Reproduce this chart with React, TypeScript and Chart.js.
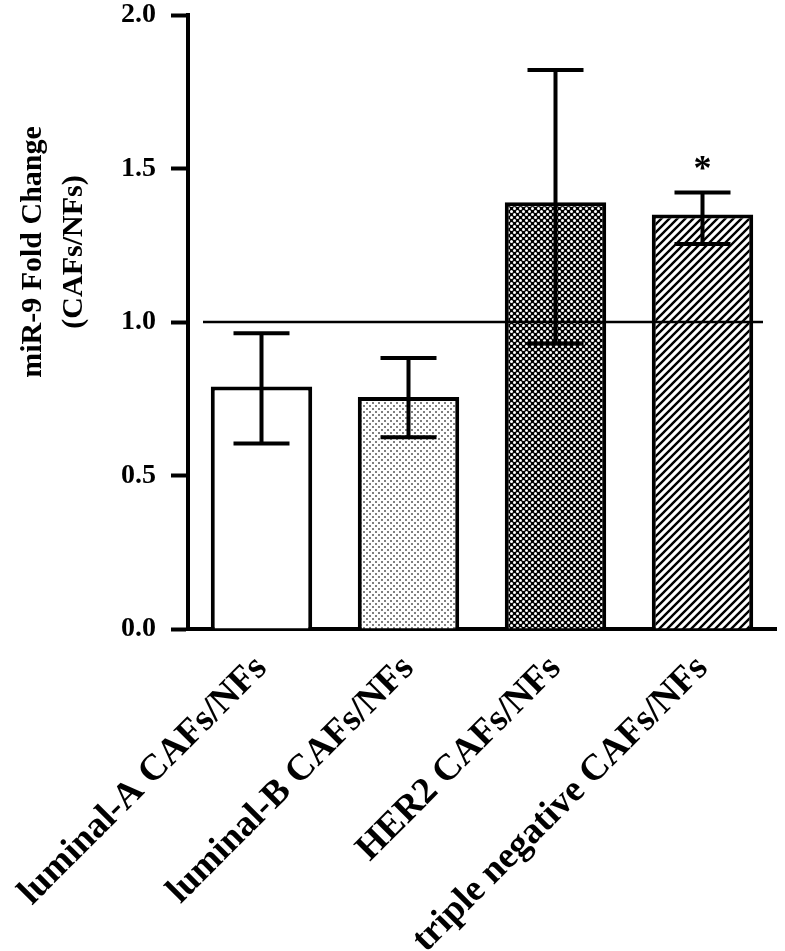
import React, { useEffect, useRef } from 'react';
import { Chart, registerables } from 'chart.js';

Chart.register(...registerables);

// ---- data ----
const categories = [
  'luminal-A CAFs/NFs',
  'luminal-B CAFs/NFs',
  'HER2 CAFs/NFs',
  'triple negative CAFs/NFs',
];
const meanValues = [0.79, 0.756, 1.39, 1.35];
const errorLow = [0.604, 0.625, 0.93, 1.254];
const errorHigh = [0.963, 0.883, 1.821, 1.422];
const significance = ['', '', '', '*'];
const patternKinds = ['white', 'lightDots', 'darkDots', 'hatch'];
const yTickValues = [0, 0.5, 1.0, 1.5, 2.0];
const referenceValue = 1.0;
const yTitleLines = ['miR-9 Fold Change', '(CAFs/NFs)'];

const FONT = '"Liberation Serif", "Times New Roman", serif';

function makePattern(kind: string): CanvasPattern | string {
  if (kind === 'white') return '#ffffff';
  const c = document.createElement('canvas');
  const ctx = c.getContext('2d')!;
  if (kind === 'lightDots') {
    c.width = 6; c.height = 6;
    ctx.fillStyle = '#ffffff'; ctx.fillRect(0, 0, 6, 6);
    ctx.fillStyle = '#808080';
    ctx.fillRect(0, 0, 2, 2);
    ctx.fillRect(3, 3, 2, 2);
  } else if (kind === 'darkDots') {
    c.width = 6; c.height = 6;
    ctx.fillStyle = '#000000'; ctx.fillRect(0, 0, 6, 6);
    ctx.fillStyle = '#ffffff';
    ctx.beginPath(); ctx.arc(1.5, 1.5, 1.5, 0, Math.PI * 2); ctx.fill();
    ctx.beginPath(); ctx.arc(4.5, 4.5, 1.5, 0, Math.PI * 2); ctx.fill();
  } else {
    c.width = 8; c.height = 8;
    ctx.fillStyle = '#ffffff'; ctx.fillRect(0, 0, 8, 8);
    ctx.strokeStyle = '#000000'; ctx.lineWidth = 2.4;
    ctx.beginPath();
    ctx.moveTo(-1, 9); ctx.lineTo(9, -1);
    ctx.moveTo(-1, 1); ctx.lineTo(1, -1);
    ctx.moveTo(7, 9); ctx.lineTo(9, 7);
    ctx.stroke();
  }
  return ctx.createPattern(c, 'repeat')!;
}

const overlayPlugin = {
  id: 'overlay',
  afterDatasetsDraw(chart: any) {
    const { ctx, chartArea, scales } = chart;
    const y = scales.y;
    const meta = chart.getDatasetMeta(0);
    ctx.save();
    // reference line at 1.0
    const yRef = y.getPixelForValue(referenceValue);
    ctx.strokeStyle = '#000';
    ctx.lineWidth = 2.5;
    ctx.beginPath();
    ctx.moveTo(chartArea.left + 15, yRef);
    ctx.lineTo(chartArea.right - 13, yRef);
    ctx.stroke();
    // error bars
    ctx.lineWidth = 4;
    meta.data.forEach((bar: any, i: number) => {
      const cx = bar.x;
      const yh = y.getPixelForValue(errorHigh[i]);
      const yl = y.getPixelForValue(errorLow[i]);
      ctx.beginPath();
      ctx.moveTo(cx, yl); ctx.lineTo(cx, yh);
      ctx.moveTo(cx - 28, yh); ctx.lineTo(cx + 28, yh);
      ctx.moveTo(cx - 28, yl); ctx.lineTo(cx + 28, yl);
      ctx.stroke();
      if (significance[i]) {
        ctx.fillStyle = '#000';
        ctx.font = `bold 36px ${FONT}`;
        ctx.textAlign = 'center';
        ctx.textBaseline = 'alphabetic';
        ctx.fillText(significance[i], cx, yh - 12);
      }
    });
    ctx.restore();
  },
  afterDraw(chart: any) {
    const { ctx, chartArea } = chart;
    const cy = (chartArea.top + chartArea.bottom) / 2 - 70;
    ctx.save();
    ctx.fillStyle = '#000';
    ctx.font = `bold 30px ${FONT}`;
    ctx.textAlign = 'center';
    ctx.textBaseline = 'middle';
    yTitleLines.forEach((line, i) => {
      ctx.save();
      ctx.translate(33 + i * 41, cy);
      ctx.rotate(-Math.PI / 2);
      ctx.fillText(line, 0, 0);
      ctx.restore();
    });
    ctx.restore();
  },
};

export default function App() {
  const ref = useRef<HTMLCanvasElement>(null);
  useEffect(() => {
    if (!ref.current) return;
    const chart = new Chart(ref.current, {
      type: 'bar',
      data: {
        labels: categories,
        datasets: [
          {
            data: meanValues,
            backgroundColor: patternKinds.map(makePattern) as any,
            borderColor: '#000',
            borderWidth: 4,
            borderSkipped: 'start',
            barPercentage: 0.69,
            categoryPercentage: 1,
          },
        ],
      },
      options: {
        responsive: false,
        animation: false,
        events: [],
        layout: { padding: { left: 0, right: 9, top: 15, bottom: 0 } },
        plugins: { legend: { display: false }, tooltip: { enabled: false } },
        scales: {
          x: {
            grid: { display: false, drawTicks: false, tickLength: 0 },
            border: { display: true, width: 4, color: '#000' },
            ticks: {
              color: '#000',
              font: { family: FONT, size: 37, weight: 'bold' },
              padding: 18,
              minRotation: 45,
              maxRotation: 45,
              autoSkip: false,
            },
            afterFit: (scale: any) => {
              scale.height = 322;
              scale.paddingLeft = 0;
              scale.paddingRight = 0;
            },
          },
          y: {
            min: 0,
            max: 2,
            afterBuildTicks: (scale: any) => {
              scale.ticks = yTickValues.map((v) => ({ value: v }));
            },
            grid: {
              drawOnChartArea: false,
              drawTicks: true,
              tickLength: 17,
              tickWidth: 4,
              tickColor: '#000',
              color: '#000',
            },
            border: { display: true, width: 4, color: '#000' },
            ticks: {
              color: '#000',
              font: { family: FONT, size: 28, weight: 'bold', lineHeight: 1 },
              padding: 15,
              callback: (v: any) => Number(v).toFixed(1),
            },
            afterFit: (scale: any) => {
              scale.width = 188;
              scale.paddingTop = 0;
              scale.paddingBottom = 0;
            },
          },
        },
      },
      plugins: [overlayPlugin],
    });
    return () => chart.destroy();
  }, []);
  return (
    <div style={{ position: 'absolute', left: 0, top: 0, width: 785, height: 951, background: '#fff' }}>
      <canvas ref={ref} width={785} height={951} style={{ display: 'block' }} />
    </div>
  );
}
